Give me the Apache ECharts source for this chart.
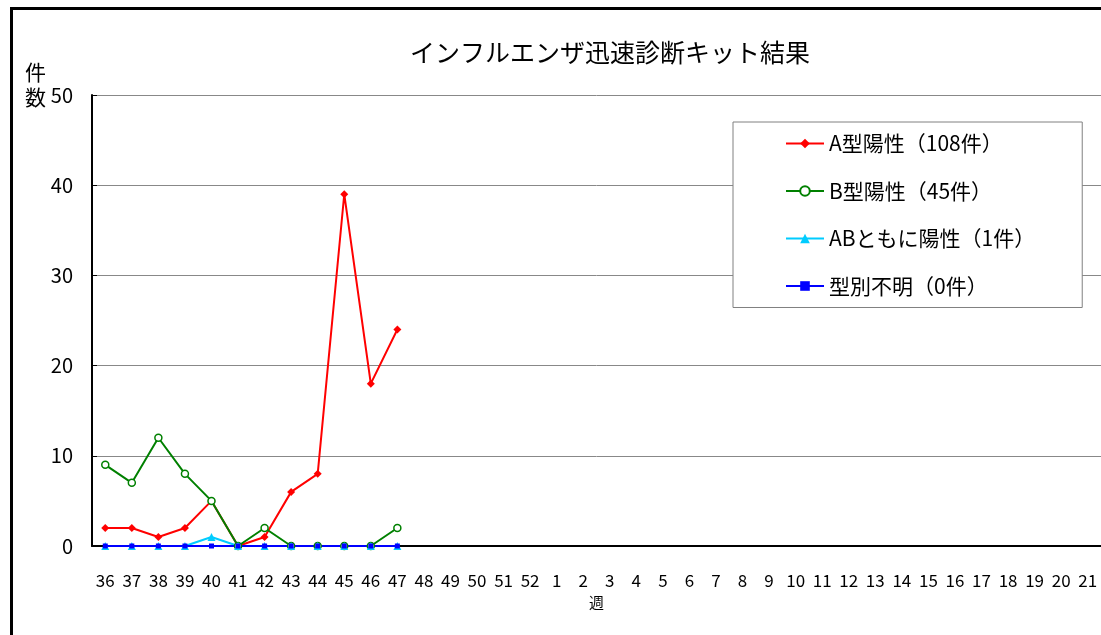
<!DOCTYPE html>
<html><head><meta charset="utf-8">
<script src="https://cdn.jsdelivr.net/npm/echarts@6/dist/echarts.min.js"></script>
<style>html,body{margin:0;padding:0;background:#fff}#c{width:1101px;height:635px;position:relative}
#frame{position:absolute;left:10px;top:7px;width:1200px;height:700px;border-left:3px solid #000;border-top:3px solid #000;pointer-events:none}</style>
</head><body><div id="c"></div><div id="frame"></div>
<script>
const weeks = ['36','37','38','39','40','41','42','43','44','45','46','47','48','49','50','51','52','1','2','3','4','5','6','7','8','9','10','11','12','13','14','15','16','17','18','19','20','21'];
const typeA = [2,2,1,2,5,0,1,6,8,39,18,24];
const typeB = [9,7,12,8,5,0,2,0,0,0,0,2];
const typeAB = [0,0,0,0,1,0,0,0,0,0,0,0];
const typeUnknown = [0,0,0,0,0,0,0,0,0,0,0,0];
const seriesNames = ['A型陽性（108件）','B型陽性（45件）','ABともに陽性（1件）','型別不明（0件）'];
const yTicks = {min:0, max:50, interval:10};
const yAxisName = '件\n数';

const font = '"Noto Sans CJK JP", sans-serif';
const chart = echarts.init(document.getElementById('c'));
function mk(name, data, color, symbol, size, filled){
  return {name, type:'line', data, symbol, symbolSize:size, showAllSymbol:true,
    lineStyle:{color, width:2}, itemStyle:{color: filled? color : '#fff', borderColor:color, borderWidth: filled?0:1.5},
    emphasis:{disabled:true}, animation:false};
}
chart.setOption({
  animation:false,
  textStyle:{fontFamily:font},
  title:{text:'インフルエンザ迅速診断キット結果', left:605, top:35, textAlign:'center',
    textStyle:{fontSize:25, fontWeight:'normal', color:'#000', fontFamily:font}},
  graphic:[{type:'text', left:25, top:60, style:{text:yAxisName, font:'21px "Noto Sans CJK JP", sans-serif', lineHeight:25, fill:'#000'}}],
  legend:{orient:'vertical', left:733, top:122, padding:[11,47,11,52], itemGap:26.5,
    itemWidth:38, itemHeight:12, backgroundColor:'#fff', borderColor:'#808080', borderWidth:1,
    textStyle:{fontSize:21, color:'#000', fontFamily:font}, data:seriesNames},
  grid:{left:92, top:95, width:1018, bottom:89, containLabel:false},
  xAxis:{type:'category', data:weeks, boundaryGap:true, name:'週', nameLocation:'middle', nameGap:49,
    nameTextStyle:{fontSize:15, color:'#000', fontFamily:font},
    axisLine:{lineStyle:{color:'#000', width:2}},
    axisTick:{inside:true, length:6, lineStyle:{color:'#999'}, alignWithLabel:false},
    axisLabel:{interval:0, fontSize:17, color:'#000', margin:26, fontFamily:font}},
  yAxis:{type:'value', min:yTicks.min, max:yTicks.max, interval:yTicks.interval,
    axisLine:{show:true, lineStyle:{color:'#000', width:2}},
    axisTick:{show:true, inside:true, length:5, lineStyle:{color:'#000'}},
    splitLine:{lineStyle:{color:'#888', width:1}},
    axisLabel:{fontSize:20, color:'#000', margin:19, fontFamily:font}},
  series:[
    mk(seriesNames[0], typeA, '#ff0000', 'diamond', 8, true),
    mk(seriesNames[1], typeB, '#008000', 'circle', 7, false),
    mk(seriesNames[2], typeAB, '#00ccff', 'triangle', 8, true),
    mk(seriesNames[3], typeUnknown, '#0000ff', 'rect', 5, true)
  ]
});
</script></body></html>
